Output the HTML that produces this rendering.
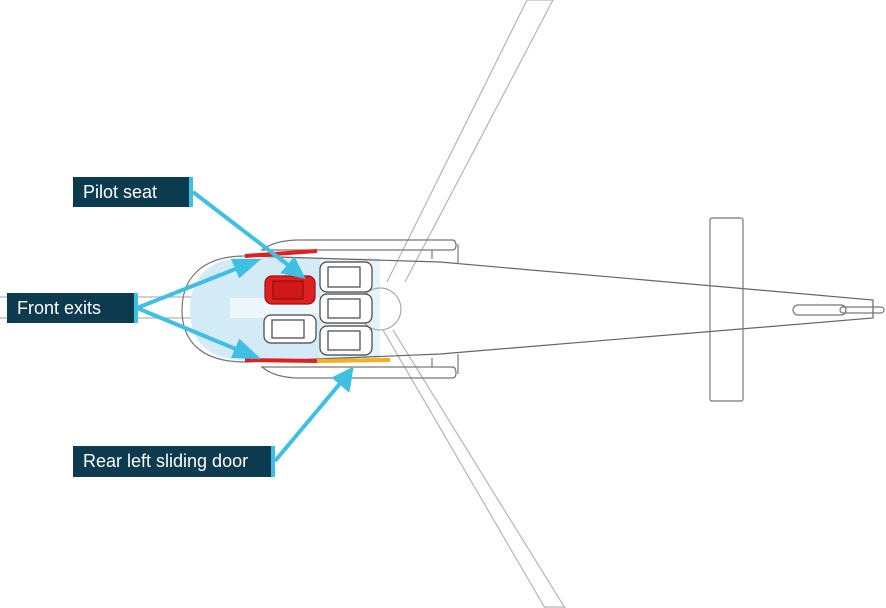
<!DOCTYPE html>
<html><head><style>
html,body{margin:0;padding:0;background:#fff;}
.lbl{position:absolute;background:#0c3a4f;color:#fff;font-family:"Liberation Sans",sans-serif;font-size:18px;line-height:30px;padding-left:10px;box-sizing:border-box;border-right:4px solid #3fc0e2;}
</style></head><body>
<div style="position:relative;width:886px;height:608px;overflow:hidden;">
<svg width="886" height="608" style="position:absolute;left:0;top:0" fill="none" stroke="#888" stroke-width="1.2">
<path d="M527,0 L553,0 L405,282 M387,282 L527,0" stroke="#b5b5b5"/>
<path d="M383,330 L545,608 M393,330 L565,608 M545,607 L565,607" stroke="#b5b5b5"/>
<path d="M0,297 L360,297 M0,318 L360,318" stroke="#b5b5b5"/>
<path d="M245,258 C205,258 190,282 190,310 C190,338 205,360 245,360 L380,360 L380,258 Z" fill="#d3eaf7" stroke="none"/>
<path d="M230,298 L380,298 L380,318 L230,318 Z" fill="#eef7fc" stroke="none"/>
<path d="M320,258 L380,258 L380,360 L320,360 Z" fill="#e6f3fa" stroke="none"/>
<path d="M245,256 C200,256 182,280 182,310 C182,340 200,362 245,362" stroke="#777"/>
<path d="M245,256 L440,262 L873,300 L873,318 L440,354 L245,362" stroke="#666"/>
<path d="M300,240 L452,240 Q456,240 456,245 Q456,250 452,250 L262,250 Q275,240 300,240" stroke="#777"/>
<path d="M300,378 L452,378 Q456,378 456,373 Q456,367 452,367 L262,367 Q275,378 300,378" stroke="#777"/>
<path d="M432,250 L432,259 M458,244 L458,264 M432,367 L432,358 M458,374 L458,354" stroke="#777"/>
<circle cx="380" cy="309" r="21" stroke="#aaa"/>
<rect x="710" y="218" width="33" height="183" rx="2" stroke="#777"/>
<rect x="793" y="305" width="53" height="10" rx="5" stroke="#777"/>
<rect x="840" y="307" width="44" height="6" rx="3" stroke="#777"/>
<g stroke="#444" stroke-width="1.2" fill="#fff">
<rect x="320" y="262" width="52" height="30" rx="7"/><rect x="328" y="267" width="32" height="20"/>
<rect x="320" y="294" width="52" height="29" rx="7"/><rect x="328" y="299" width="32" height="19"/>
<rect x="320" y="326" width="52" height="29" rx="7"/><rect x="328" y="331" width="32" height="19"/>
<rect x="264" y="315" width="52" height="28" rx="7"/><rect x="272" y="320" width="32" height="18"/>
</g>
<rect x="265" y="276" width="50" height="28" rx="7" fill="#e02020" stroke="#a01010"/>
<rect x="273" y="281" width="30" height="18" fill="#d01818" stroke="#901010"/>
<path d="M245,256 L317,251" stroke="#e41e1e" stroke-width="4"/>
<path d="M245,360 L317,361" stroke="#e41e1e" stroke-width="4"/>
<path d="M317,361 L390,360" stroke="#f2b01e" stroke-width="4"/>
<g stroke="#3fc0e2" stroke-width="4" fill="#3fc0e2">
<path d="M193,192 L292,268"/><polygon points="302,276 284,272 294,260"/>
<path d="M137,308 L243,266"/><polygon points="256,261 240,275 234,261"/>
<path d="M137,308 L243,352"/><polygon points="256,357 234,356 240,342"/>
<path d="M275,461 L343,380"/><polygon points="351,370 348,389 335,378"/>
</g>
</svg>
<div class="lbl" style="left:73px;top:177px;width:120px;height:30px;">Pilot seat</div>
<div class="lbl" style="left:7px;top:293px;width:131px;height:30px;">Front exits</div>
<div class="lbl" style="left:73px;top:446px;width:202px;height:31px;">Rear left sliding door</div>
</div>
</body></html>
